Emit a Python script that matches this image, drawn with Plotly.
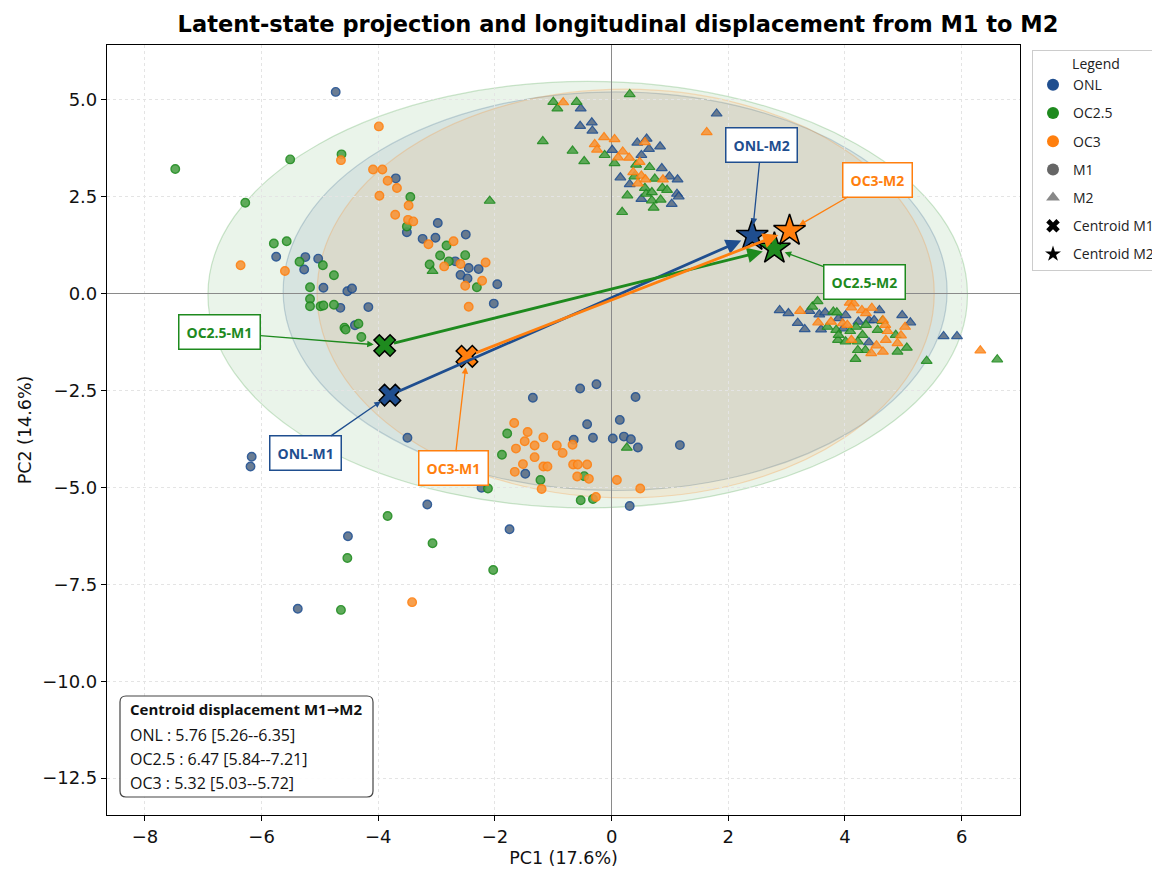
import plotly.graph_objects as go

groups = ["ONL", "OC2.5", "OC3"]

# ---- M1 scores (circles) ----
onl_m1_x = [-4.73, -3.70, -3.51, -2.98, -3.24, -3.02, -2.50, -2.68, -2.45, -2.28, -2.59, -2.47, -1.96, -2.02,
            -5.75, -5.25, -5.27, -5.03, -4.94, -4.53, -4.45, -4.65, -4.17, -4.40, -6.17, -6.19, -3.50, -3.16,
            -4.52, -1.75, -5.38, -2.23, -1.35, -0.54, -0.26, 0.41, -0.42, 0.14, -0.65, -0.32, 0.02, 0.21, 0.33,
            0.45, 1.17, -1.48, 0.31]
onl_m1_y = [5.20, 2.97, 1.58, 1.82, 1.41, 1.44, 1.52, 0.83, 0.66, 0.63, 0.48, 0.39, 0.24, -0.26,
            0.95, 0.94, 0.62, 0.90, 0.15, 0.06, 0.13, -0.37, -0.35, -0.82, -4.21, -4.46, -3.72, -5.44,
            -6.26, -6.08, -8.13, -5.01, -2.69, -2.45, -2.34, -2.67, -3.37, -3.26, -3.77, -3.72, -3.74, -3.69, -3.76,
            -3.97, -3.91, -4.65, -5.48]

oc25_m1_x = [-5.51, -4.63, -3.45, -6.28, -3.51, -2.83, -2.94, -2.51, -3.12, -2.79, -2.31, -5.79, -5.57, -5.35,
             -4.95, -4.76, -5.17, -5.17, -5.17, -4.99, -4.94, -4.76, -4.58, -4.56, -4.34, -4.29, -7.48, -3.84,
             -3.07, -4.53, -2.03, -4.64, -2.12, -1.79, -1.88, -0.47, -1.22, -0.53, -0.32]
oc25_m1_y = [3.46, 3.59, 2.49, 2.34, 1.73, 1.24, 0.98, 0.99, 0.75, 0.83, 0.16, 1.29, 1.35, 0.82,
             0.73, 0.47, 0.16, -0.14, -0.33, -0.33, -0.31, -0.29, -0.88, -0.93, -0.78, -1.12, 3.21, -5.74,
             -6.44, -6.82, -7.13, -8.16, -5.03, -3.61, -4.16, -4.71, -4.81, -5.33, -5.30]

oc3_m1_x = [-3.99, -4.64, -4.09, -3.93, -3.84, -3.68, -3.98, -3.48, -3.71, -3.49, -3.40, -3.14, -2.71, -2.59,
            -2.87, -2.16, -2.22, -2.51, -2.45, -6.36, -5.60, -3.42, -1.67, -1.44, -1.49, -1.17, -1.64, -1.32,
            -0.94, -0.67, -0.84, -1.32, -1.52, -1.17, -1.10, -0.66, -0.58, -0.42, -1.66, -0.59, -0.39, 0.09,
            0.49, -1.20, -0.27]
oc3_m1_y = [4.31, 3.44, 3.20, 3.20, 2.91, 2.72, 2.52, 2.27, 2.03, 1.90, 1.86, 1.27, 1.35, 0.76,
            0.70, 0.80, 0.33, 0.20, -0.34, 0.73, 0.58, -7.96, -3.34, -3.57, -3.81, -3.71, -4.00, -3.92,
            -3.92, -3.90, -4.11, -4.22, -4.40, -4.46, -4.46, -4.41, -4.41, -4.41, -4.60, -4.72, -4.78, -4.81,
            -5.03, -5.04, -5.25]

# ---- M2 scores (triangles) ----
onl_m2_x = [-0.53, 1.80, -0.34, -0.54, -0.33, 0.01, 0.44, 0.60, 0.64, 0.83, 0.51, 0.86, 0.15, 0.31, 0.99, 1.13,
            0.51, 1.12, 1.15, 1.03, 2.88, 3.03, 3.19, 3.31, 3.39, 3.56, 3.66, 3.59, 3.89, 4.01, 3.97, 4.23,
            4.41, 4.50, 4.59, 4.41, 4.98, 5.12, 5.69, 5.92]
onl_m2_y = [4.77, 4.64, 4.41, 4.32, 4.20, 3.70, 3.89, 3.99, 3.73, 3.79, 3.57, 3.23, 2.99, 2.82, 3.02, 2.94,
            2.44, 2.57, 2.50, 2.31, -0.43, -0.51, -0.76, -0.92, -0.45, -0.54, -0.49, -0.93, -0.64, -0.56, -0.90, -0.73,
            -0.69, -0.69, -0.43, -1.26, -0.56, -0.75, -1.10, -1.10]

oc25_m2_x = [-1.00, -0.93, -0.60, 0.31, -1.18, -0.67, -0.12, -0.47, 0.05, 0.42, 0.65, 0.74, 0.57, 0.87, 0.95,
             0.39, 0.59, 0.69, 0.69, 0.27, 0.84, 0.72, 0.18, -2.09, -3.07, 0.26, 3.44, 3.53, 3.70, 3.80, 3.86,
             3.85, 3.88, 4.01, 3.89, 4.09, 4.22, 4.19, 4.30, 4.36, 4.56, 4.64, 4.35, 4.22, 4.18, 4.87, 4.90,
             5.06, 5.40, 6.61]
oc25_m2_y = [4.94, 4.77, 4.94, 5.14, 3.93, 3.68, 3.57, 3.41, 3.36, 3.32, 3.26, 2.96, 2.72, 2.72, 2.67,
             3.02, 2.57, 2.61, 2.40, 2.53, 2.42, 2.21, 2.10, 2.39, 0.58, -3.98, -0.34, -0.20, -0.86, -0.47, -0.49,
             -0.94, -1.20, -1.24, -1.07, -0.97, -1.24, -0.86, -1.07, -0.81, -0.94, -0.71, -1.46, -1.46, -1.69, -1.07, -1.50,
             -1.40, -1.74, -1.70]

oc3_m2_x = [-0.83, 1.63, -0.13, 0.05, -0.29, -0.25, 0.19, 0.11, 0.30, 0.57, 0.48, 0.37, 0.45, 0.51, 0.58, 0.88,
            3.23, 3.54, 3.76, 4.08, 4.15, 4.11, 3.96, 4.04, 4.11, 4.29, 4.36, 4.46, 4.65, 4.69, 4.73, 4.70,
            4.54, 4.65, 4.45, 4.96, 4.90, 5.03, 6.32]
oc3_m2_y = [4.93, 4.16, 4.03, 3.98, 3.85, 3.71, 3.66, 3.51, 3.50, 3.90, 3.39, 3.13, 2.84, 3.04, 2.94, 2.94,
            -0.45, -0.75, -0.73, -0.24, -0.26, -0.36, -0.77, -0.81, -1.20, -0.43, -0.51, -0.37, -0.69, -0.81, -0.97, -1.20,
            -1.34, -1.50, -1.54, -1.08, -1.28, -0.86, -1.47]

# ---- centroids ----
centroid_m1_x = [-3.80, -3.89, -2.48]
centroid_m1_y = [-2.62, -1.34, -1.62]
centroid_m2_x = [2.41, 2.79, 3.05]
centroid_m2_y = [1.49, 1.16, 1.62]

# ---- ellipses (center, half axes) ----
ell_cx = [0.06, -0.41, 0.24]
ell_cy = [0.06, -0.03, 0.00]
ell_rx = [5.69, 6.51, 5.29]
ell_ry = [5.14, 5.50, 5.27]

# ---- displacement summary ----
disp_mean = [5.76, 6.47, 5.32]
disp_lo = [5.26, 5.84, 5.03]
disp_hi = [6.35, 7.21, 5.72]

m1_x = [onl_m1_x, oc25_m1_x, oc3_m1_x]
m1_y = [onl_m1_y, oc25_m1_y, oc3_m1_y]
m2_x = [onl_m2_x, oc25_m2_x, oc3_m2_x]
m2_y = [onl_m2_y, oc25_m2_y, oc3_m2_y]

edge = ["#1f4e8f", "#1e8a1e", "#ff7f0e"]
fill = ["#5c7088", "#4fa34a", "#f7963b"]
rgb = [(31, 78, 143), (34, 139, 34), (255, 127, 14)]

FONT = "DejaVu Sans"
SANS = "Open Sans"

# figure placed at (8, 8) in the page by the default body margin
W, H = 1152, 871
PL, PR, PT, PB = 107, 1020, 45, 815           # target plot box in window pixels
ml, mt = PL - 8, PT - 8
mr, mb = (8 + W) - PR, (8 + H) - PB
pw, ph = PR - PL, PB - PT

fig = go.Figure()

# ellipses
for i in range(3):
    r, g, b = rgb[i]
    fig.add_shape(type="circle", xref="x", yref="y",
                  x0=ell_cx[i] - ell_rx[i], x1=ell_cx[i] + ell_rx[i],
                  y0=ell_cy[i] - ell_ry[i], y1=ell_cy[i] + ell_ry[i],
                  fillcolor=f"rgba({r},{g},{b},0.095)",
                  line=dict(color=f"rgba({r},{g},{b},0.22)", width=1.2),
                  layer="below")

# points
for i in range(3):
    fig.add_trace(go.Scatter(x=m1_x[i], y=m1_y[i], mode="markers", showlegend=False, hoverinfo="skip",
                             marker=dict(symbol="circle", size=8.5, color=fill[i], opacity=0.9,
                                         line=dict(color=edge[i], width=1.4))))
for i in range(3):
    fig.add_trace(go.Scatter(x=m2_x[i], y=m2_y[i], mode="markers", showlegend=False, hoverinfo="skip",
                             marker=dict(symbol="triangle-up", size=9.5, color=fill[i], opacity=0.9,
                                         line=dict(color=edge[i], width=1.2))))

# arrows
for i in range(3):
    fig.add_annotation(x=centroid_m2_x[i], y=centroid_m2_y[i], ax=centroid_m1_x[i], ay=centroid_m1_y[i],
                       xref="x", yref="y", axref="x", ayref="y", text="", showarrow=True,
                       arrowhead=2, arrowsize=1.1, arrowwidth=2.8, arrowcolor=edge[i],
                       standoff=12, startstandoff=8)

# centroids
for i in range(3):
    fig.add_trace(go.Scatter(x=[centroid_m1_x[i]], y=[centroid_m1_y[i]], mode="markers", showlegend=False,
                             marker=dict(symbol="x", size=19, color=edge[i], line=dict(color="black", width=1.5))))
    fig.add_trace(go.Scatter(x=[centroid_m2_x[i]], y=[centroid_m2_y[i]], mode="markers", showlegend=False,
                             marker=dict(symbol="star", size=24, color=edge[i], line=dict(color="black", width=1.5))))

# legend entries
legend_items = [("ONL", "circle", edge[0], 11), ("OC2.5", "circle", edge[1], 11), ("OC3", "circle", edge[2], 11),
                ("M1", "circle", "#666666", 11), ("M2", "triangle-up", "#888888", 12),
                ("Centroid M1", "x", "black", 15), ("Centroid M2", "star", "black", 17)]
for k, (nm, sym, col, sz) in enumerate(legend_items):
    fig.add_trace(go.Scatter(x=[None], y=[None], mode="markers", name=nm, legendgroup=f"g{k}",
                             marker=dict(symbol=sym, size=sz, color=col)))

# labels
label_off = {
    ("ONL", "M1"): (-84, 58), ("OC2.5", "M1"): (-165, -13), ("OC3", "M1"): (-13, 112),
    ("ONL", "M2"): (9, -91), ("OC2.5", "M2"): (90, 33), ("OC3", "M2"): (88, -51),
}
for i, gname in enumerate(groups):
    for tp, cx, cy in (("M1", centroid_m1_x[i], centroid_m1_y[i]), ("M2", centroid_m2_x[i], centroid_m2_y[i])):
        ax, ay = label_off[(gname, tp)]
        fig.add_annotation(x=cx, y=cy, xref="x", yref="y", ax=ax, ay=ay,
                           text=f"<b>{gname}-{tp}</b>", showarrow=True, arrowhead=2, arrowsize=1,
                           arrowwidth=1.3, arrowcolor=edge[i], standoff=11,
                           font=dict(family=SANS, size=14, color=edge[i]),
                           bgcolor="white", bordercolor=edge[i], borderwidth=1.5, borderpad=7)

# summary box (rounded rectangle + lines)
def px_x(p):
    return (p - PL) / pw

def px_y(p):
    return (PB - p) / ph

bx0, bx1, by0, by1 = px_x(120), px_x(373), px_y(797), px_y(696)
rx, ry = 6 / pw, 6 / ph
path = (f"M {bx0+rx},{by0} L {bx1-rx},{by0} Q {bx1},{by0} {bx1},{by0+ry} L {bx1},{by1-ry} "
        f"Q {bx1},{by1} {bx1-rx},{by1} L {bx0+rx},{by1} Q {bx0},{by1} {bx0},{by1-ry} "
        f"L {bx0},{by0+ry} Q {bx0},{by0} {bx0+rx},{by0} Z")
fig.add_shape(type="path", xref="paper", yref="paper", path=path,
              fillcolor="rgba(255,255,255,0.92)", line=dict(color="#444444", width=1.2), layer="above")
lines = ["<b>Centroid displacement M1<span style=\"font-family:DejaVu Sans\">→</span>M2</b>"] + [
    f"{groups[i]} : {disp_mean[i]:.2f} [{disp_lo[i]:.2f}--{disp_hi[i]:.2f}]" for i in range(3)]
line_px = [709, 735, 759, 783]
line_size = [15, 16, 16, 16]
for t, yy, fs in zip(lines, line_px, line_size):
    fig.add_annotation(xref="paper", yref="paper", x=px_x(128), y=px_y(yy), xanchor="left", yanchor="middle",
                       text=t, showarrow=False, align="left",
                       font=dict(family=SANS, size=fs, color="#111"))

axis_common = dict(showline=True, linecolor="black", linewidth=1.2, mirror=True,
                   ticks="outside", ticklen=5, tickcolor="black", automargin=False,
                   showgrid=True, gridcolor="#e4e4e4", griddash="dot", gridwidth=1,
                   zeroline=True, zerolinecolor="#8a8a8a", zerolinewidth=1.3,
                   tickfont=dict(family=FONT, size=18, color="#111"))

fig.update_layout(
    width=W, height=H,
    margin=dict(l=ml, r=mr, t=mt, b=mb, autoexpand=False),
    paper_bgcolor="white", plot_bgcolor="white",
    title=dict(text="<b>Latent-state projection and longitudinal displacement from M1 to M2</b>",
               x=(618 - 8) / W, xanchor="center", y=1 - (8 / H), yanchor="top",
               font=dict(family=FONT, size=22.5, color="black")),
    xaxis=dict(range=[-8.65, 7.0], tickvals=[-8, -6, -4, -2, 0, 2, 4, 6],
               title=dict(text="PC1 (17.6%)", font=dict(family=FONT, size=17.5, color="#111"), standoff=6),
               **axis_common),
    yaxis=dict(range=[-13.45, 6.41], tickvals=[5, 2.5, 0, -2.5, -5, -7.5, -10, -12.5], tickformat=".1f",
               title=dict(text="PC2 (14.6%)", font=dict(family=FONT, size=17.5, color="#111"), standoff=6),
               **axis_common),
    legend=dict(x=px_x(1032), y=px_y(50), xanchor="left", yanchor="top",
                title=dict(text="Legend", side="top center", font=dict(family=SANS, size=14, color="#222")),
                font=dict(family=SANS, size=14, color="#222"), tracegroupgap=7, itemwidth=30,
                bordercolor="#cccccc", borderwidth=1, bgcolor="white", itemsizing="constant"),
    showlegend=True,
)

fig.write_html("out.html")
